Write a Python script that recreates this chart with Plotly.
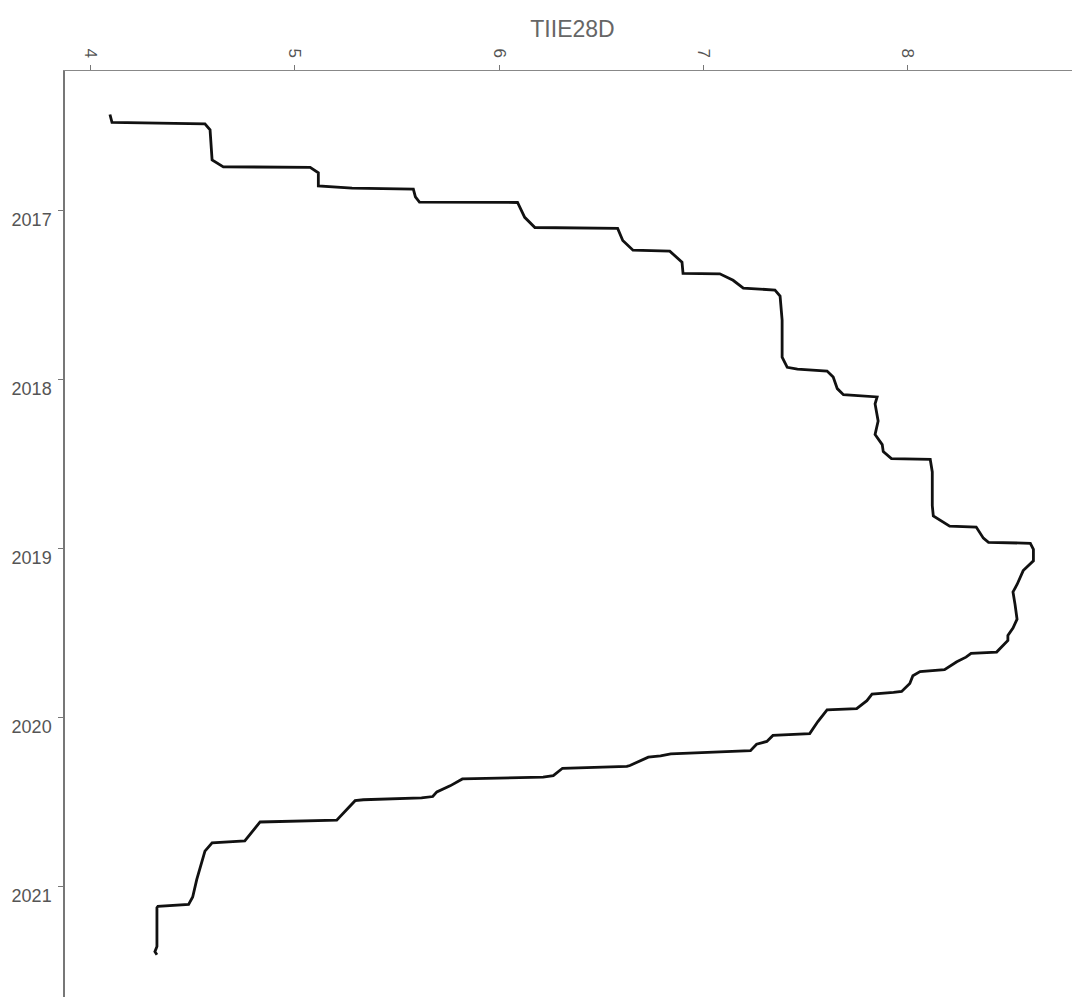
import plotly.graph_objects as go

# TIIE28D (value, date)
dates = [
    "2016-06-08", "2016-06-25", "2016-06-28", "2016-07-11", "2016-09-14", "2016-09-29",
    "2016-09-30", "2016-10-12", "2016-11-09", "2016-11-14", "2016-11-16", "2016-12-03",
    "2016-12-14", "2016-12-15", "2017-01-16", "2017-02-07", "2017-02-09", "2017-03-07",
    "2017-03-28", "2017-03-30", "2017-04-23", "2017-05-17", "2017-05-18", "2017-06-01",
    "2017-06-18", "2017-06-22", "2017-07-05", "2017-08-26", "2017-11-14", "2017-12-06",
    "2017-12-10", "2017-12-14", "2017-12-27", "2018-01-21", "2018-02-03", "2018-02-08",
    "2018-02-23", "2018-04-01", "2018-04-30", "2018-05-22", "2018-06-06", "2018-06-21",
    "2018-06-23", "2018-07-20", "2018-10-01", "2018-10-23", "2018-11-14", "2018-11-16",
    "2018-12-10", "2018-12-19", "2018-12-21", "2019-01-03", "2019-01-28", "2019-02-18",
    "2019-03-20", "2019-04-05", "2019-05-02", "2019-06-03", "2019-06-22", "2019-07-08",
    "2019-07-19", "2019-08-05", "2019-08-13", "2019-08-16", "2019-08-24", "2019-09-03",
    "2019-09-20", "2019-09-24", "2019-10-03", "2019-10-20", "2019-11-06", "2019-11-08",
    "2019-11-12", "2019-11-26", "2019-12-13", "2019-12-16", "2020-01-10", "2020-02-05",
    "2020-02-09", "2020-02-22", "2020-02-28", "2020-03-13", "2020-03-16", "2020-03-20",
    "2020-03-24", "2020-03-27", "2020-04-14", "2020-04-16", "2020-04-20", "2020-05-06",
    "2020-05-09", "2020-05-13", "2020-05-28", "2020-06-10", "2020-06-20", "2020-06-23",
    "2020-06-27", "2020-06-29", "2020-08-10", "2020-08-14", "2020-09-24", "2020-09-28",
    "2020-10-16", "2020-12-16", "2021-01-23", "2021-02-08", "2021-02-12", "2021-02-15",
    "2021-05-10", "2021-05-21", "2021-05-28",
]
tiie28d = [
    4.095, 4.105, 4.56, 4.585, 4.595, 4.65,
    5.075, 5.115, 5.115, 5.28, 5.58, 5.59,
    5.61, 6.09, 6.125, 6.175, 6.58, 6.605,
    6.655, 6.835, 6.895, 6.90, 7.08, 7.145,
    7.195, 7.35, 7.375, 7.385, 7.385, 7.41,
    7.46, 7.605, 7.635, 7.655, 7.685, 7.85,
    7.84, 7.855, 7.84, 7.875, 7.88, 7.92,
    8.11, 8.12, 8.12, 8.125, 8.205, 8.335,
    8.37, 8.395, 8.60, 8.615, 8.615, 8.565,
    8.535, 8.515, 8.525, 8.535, 8.515, 8.49,
    8.49, 8.45, 8.435, 8.31, 8.285, 8.24,
    8.18, 8.06, 8.025, 8.01, 7.97, 7.93,
    7.825, 7.80, 7.75, 7.605, 7.56, 7.52,
    7.34, 7.31, 7.26, 7.23, 7.05, 6.84,
    6.79, 6.73, 6.64, 6.625, 6.31, 6.265,
    6.215, 5.82, 5.76, 5.695, 5.675, 5.62,
    5.335, 5.295, 5.205, 4.83, 4.755, 4.595,
    4.56, 4.52, 4.50, 4.48, 4.33, 4.325,
    4.325, 4.315, 4.325,
]

x_ticks = [4, 5, 6, 7, 8]
y_tick_vals = ["2017-01-01", "2018-01-01", "2019-01-01", "2020-01-01", "2021-01-01"]
y_tick_text = ["2017", "2018", "2019", "2020", "2021"]

fig = go.Figure()
fig.add_trace(go.Scatter(
    x=tiie28d, y=dates, mode="lines",
    line=dict(color="#111111", width=2.8),
    showlegend=False, hoverinfo="skip",
))

font_family = "Liberation Sans, Arial, sans-serif"
fig.update_layout(
    width=1080, height=997,
    margin=dict(l=57, r=8, t=63, b=8),
    paper_bgcolor="white", plot_bgcolor="white",
    font=dict(family=font_family, color="#555555"),
    xaxis=dict(
        side="top", range=[3.875, 8.843], automargin=False,
        tickvals=x_ticks, ticktext=[str(v) for v in x_ticks],
        tickangle=90, ticks="outside", ticklen=5, tickwidth=1, tickcolor="#777777",
        tickfont=dict(size=17, color="#555555"), ticklabelstandoff=1,
        showline=True, linecolor="#888888", linewidth=1.2,
        showgrid=False, zeroline=False,
        title=dict(text="TIIE28D", font=dict(size=23, color="#666666"), standoff=4),
    ),
    yaxis=dict(
        type="date", range=["2021-08-27", "2016-03-06"], automargin=False,
        tickvals=y_tick_vals, ticktext=y_tick_text,
        ticks="outside", ticklen=5, tickwidth=1, tickcolor="#777777",
        tickfont=dict(size=18, color="#555555"), ticklabelstandoff=3,
        ticklabelshift=-9,
        showline=True, linecolor="#777777", linewidth=1.5,
        showgrid=False, zeroline=False,
    ),
)

fig.write_html("out.html")
